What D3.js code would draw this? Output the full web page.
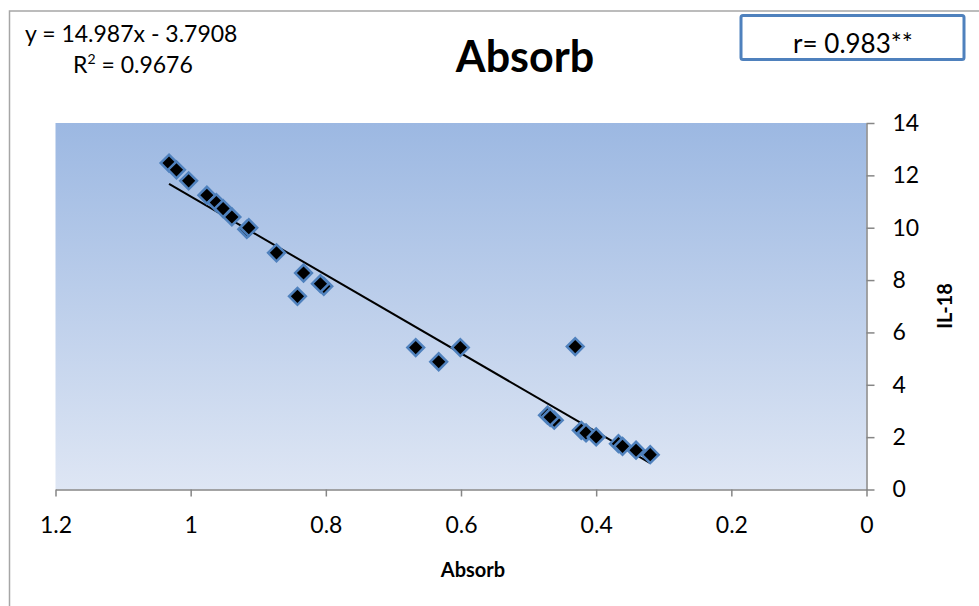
<!DOCTYPE html>
<html>
<head>
<meta charset="utf-8">
<script src="https://cdn.jsdelivr.net/npm/d3@7"></script>
<style>
  body { margin: 0; background: #ffffff; }
  text { font-family: Lato, "Open Sans", sans-serif; fill: #000000; }
</style>
</head>
<body>
<div id="chart"></div>
<script>
// Data
var absorb = [1.032, 1.021, 1.003, 0.976, 0.962, 0.952, 0.939, 0.917, 0.914, 0.873,
              0.833, 0.803, 0.808, 0.842, 0.667, 0.633, 0.601, 0.431, 0.472, 0.462,
              0.468, 0.422, 0.415, 0.400, 0.367, 0.361, 0.341, 0.320];
var il18 = [12.47, 12.21, 11.79, 11.24, 10.96, 10.73, 10.41, 9.94, 10.0, 9.04,
            8.27, 7.76, 7.86, 7.38, 5.42, 4.88, 5.42, 5.46, 2.84, 2.65,
            2.76, 2.26, 2.16, 2.01, 1.75, 1.65, 1.50, 1.33];
var xTicks = [1.2, 1, 0.8, 0.6, 0.4, 0.2, 0];
var xTickLabels = ["1.2", "1", "0.8", "0.6", "0.4", "0.2", "0"];
var yTicks = [0, 2, 4, 6, 8, 10, 12, 14];
var trendSlope = 14.987;
var trendIntercept = -3.7908;

function drawChart() {
    var w = 979, h = 606;
    var left = 55.5, right = 866.5, top = 123, bottom = 489.5;

    var svg = d3.select("#chart").append("svg")
        .attr("width", w)
        .attr("height", h);

    // Outer chart border
    svg.append("rect")
        .attr("x", 9.5).attr("y", 11)
        .attr("width", 980).attr("height", 610)
        .attr("fill", "#ffffff")
        .attr("stroke", "#a6a6a6")
        .attr("stroke-width", 1.5);

    // Gradient for plot area
    var grad = svg.append("defs").append("linearGradient")
        .attr("id", "plotGrad")
        .attr("x1", 0).attr("y1", 0).attr("x2", 0).attr("y2", 1);
    grad.append("stop").attr("offset", "0%").attr("stop-color", "#9cb8e2");
    grad.append("stop").attr("offset", "100%").attr("stop-color", "#dee6f4");

    // Scales (x reversed: 1.2 on the left)
    var x = d3.scaleLinear().domain([1.2, 0]).range([left, right]);
    var y = d3.scaleLinear().domain([0, 14]).range([bottom, top]);

    svg.append("rect")
        .attr("x", left).attr("y", top)
        .attr("width", right - left).attr("height", bottom - top)
        .attr("fill", "url(#plotGrad)");

    // X axis
    var xAxis = svg.append("g")
        .attr("transform", "translate(0," + bottom + ")")
        .call(d3.axisBottom(x)
            .tickValues(xTicks)
            .tickFormat(function(d, i) { return xTickLabels[i]; })
            .tickSizeInner(7).tickSizeOuter(0).tickPadding(20));
    xAxis.select(".domain").attr("stroke", "#868686").attr("stroke-width", 1.5);
    xAxis.selectAll(".tick line").attr("stroke", "#868686").attr("stroke-width", 1.5);
    xAxis.selectAll(".tick text").attr("font-size", "23px")
        .style("font-family", "Lato, sans-serif");

    // Y axis on the right
    var yAxis = svg.append("g")
        .attr("transform", "translate(" + right + ",0)")
        .call(d3.axisRight(y)
            .tickValues(yTicks)
            .tickSizeInner(8).tickSizeOuter(0).tickPadding(18));
    yAxis.select(".domain").attr("stroke", "#868686").attr("stroke-width", 1.5);
    yAxis.selectAll(".tick line").attr("stroke", "#868686").attr("stroke-width", 1.5);
    yAxis.selectAll(".tick text").attr("font-size", "23px")
        .style("font-family", "Lato, sans-serif");

    // Trend line across the data range
    var xMin = d3.min(absorb), xMax = d3.max(absorb);
    svg.append("line")
        .attr("x1", x(xMax)).attr("y1", y(trendSlope * xMax + trendIntercept))
        .attr("x2", x(xMin)).attr("y2", y(trendSlope * xMin + trendIntercept))
        .attr("stroke", "#000000")
        .attr("stroke-width", 2);

    // Diamond markers
    var diamond = d3.symbol().type(d3.symbolSquare).size(140);
    svg.append("g").selectAll("path")
        .data(absorb)
        .enter()
        .append("path")
        .attr("d", diamond)
        .attr("transform", function(d, i) {
            return "translate(" + x(d) + "," + y(il18[i]) + ") rotate(45)";
        })
        .attr("fill", "#000000")
        .attr("stroke", "#4f81bd")
        .attr("stroke-width", 2.5);

    // Title
    svg.append("text")
        .attr("x", 525).attr("y", 72)
        .attr("text-anchor", "middle")
        .attr("font-size", "43px")
        .attr("font-weight", "bold")
        .text("Absorb");

    // Trendline equation
    svg.append("text")
        .attr("x", 25).attr("y", 42)
        .attr("font-size", "23px")
        .text("y = 14.987x - 3.7908");
    var r2 = svg.append("text")
        .attr("x", 73).attr("y", 73)
        .attr("font-size", "23px");
    r2.append("tspan").text("R");
    r2.append("tspan").attr("font-size", "14px").attr("dy", -9).text("2");
    r2.append("tspan").attr("dy", 9).text(" = 0.9676");

    // Correlation box
    svg.append("rect")
        .attr("x", 741).attr("y", 15.5)
        .attr("width", 223).attr("height", 44)
        .attr("rx", 2)
        .attr("fill", "#ffffff")
        .attr("stroke", "#4f81bd")
        .attr("stroke-width", 3);
    svg.append("text")
        .attr("x", 853).attr("y", 53)
        .attr("text-anchor", "middle")
        .attr("font-size", "26px")
        .text("r= 0.983**");

    // Axis titles
    svg.append("text")
        .attr("x", 473).attr("y", 577)
        .attr("text-anchor", "middle")
        .attr("font-size", "20px")
        .attr("font-weight", "bold")
        .text("Absorb");
    svg.append("text")
        .attr("transform", "translate(952,306) rotate(-90)")
        .attr("text-anchor", "middle")
        .attr("font-size", "20px")
        .attr("font-weight", "bold")
        .text("IL-18");
}

window.onload = drawChart;
</script>
</body>
</html>
